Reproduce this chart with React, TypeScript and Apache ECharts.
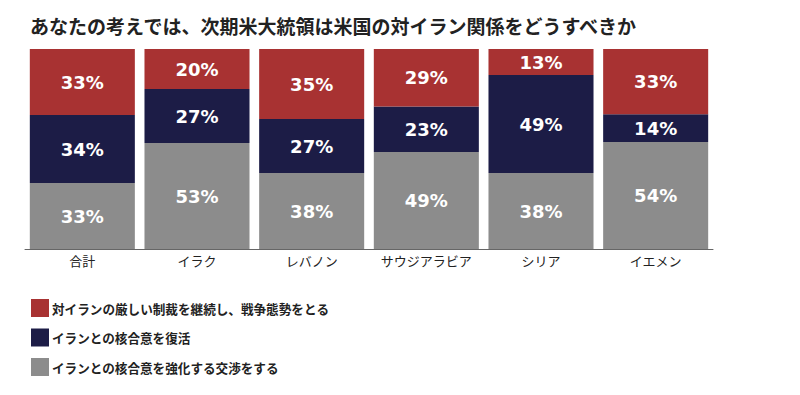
import React, { useEffect, useRef } from "react";
import * as echarts from "echarts";

const titleText = "あなたの考えでは、次期米大統領は米国の対イラン関係をどうすべきか";
const categories = ["合計", "イラク", "レバノン", "サウジアラビア", "シリア", "イエメン"];
const seriesNames = [
  "対イランの厳しい制裁を継続し、戦争態勢をとる",
  "イランとの核合意を復活",
  "イランとの核合意を強化する交渉をする",
];
const sanctions = [33, 20, 35, 29, 13, 33];
const revive = [34, 27, 27, 23, 49, 14];
const strengthen = [33, 53, 38, 49, 38, 54];
const colors = ["#a83232", "#1c1c46", "#8c8c8c"];

export default function App() {
  const ref = useRef<HTMLDivElement>(null);
  useEffect(() => {
    if (!ref.current) return;
    const chart = echarts.init(ref.current, undefined, { renderer: "svg" });
    const raw = [sanctions, revive, strengthen];
    const totals = categories.map((_, i) => raw.reduce((s, a) => s + a[i], 0));
    // stack order bottom -> top: strengthen, revive, sanctions
    const order = [2, 1, 0];
    const series = order.map((k) => ({
      name: seriesNames[k],
      type: "bar",
      stack: "total",
      barCategoryGap: "8.4%",
      itemStyle: { color: colors[k] },
      label: {
        show: true,
        position: "inside",
        color: "#ffffff",
        fontFamily: "DejaVu Sans",
        fontWeight: "bold",
        fontSize: 18,
        formatter: (p: any) => raw[k][p.dataIndex] + "%",
      },
      data: raw[k].map((v, i) => (v / totals[i]) * 100),
    }));
    chart.setOption({
      animation: false,
      title: {
        text: titleText,
        left: 25,
        top: 11,
        textStyle: {
          fontFamily: "Noto Sans CJK JP",
          fontWeight: "bold",
          fontSize: 19,
          color: "#222222",
        },
      },
      legend: {
        orient: "vertical",
        left: 31,
        top: 299,
        padding: 0,
        itemWidth: 18,
        itemHeight: 18,
        itemGap: 11.5,
        icon: "rect",
        data: seriesNames,
        textStyle: {
          fontFamily: "Noto Sans CJK JP",
          fontWeight: "bold",
          fontSize: 12.6,
          color: "#222222",
          padding: [0, 0, 0, -2],
        },
      },
      grid: { left: 25, right: 87, top: 49, height: 200, containLabel: false },
      xAxis: {
        type: "category",
        data: categories,
        axisTick: { show: false },
        axisLine: { lineStyle: { color: "#666666", width: 1 } },
        axisLabel: {
          interval: 0,
          margin: 5,
          fontFamily: "Noto Sans CJK JP",
          fontSize: 13,
          color: "#222222",
        },
      },
      yAxis: {
        type: "value",
        min: 0,
        max: 100,
        show: false,
        splitLine: { show: false },
      },
      series,
    });
    return () => chart.dispose();
  }, []);
  return (
    <div
      ref={ref}
      style={{ position: "fixed", left: 0, top: 0, width: 800, height: 395, background: "#ffffff" }}
    />
  );
}
